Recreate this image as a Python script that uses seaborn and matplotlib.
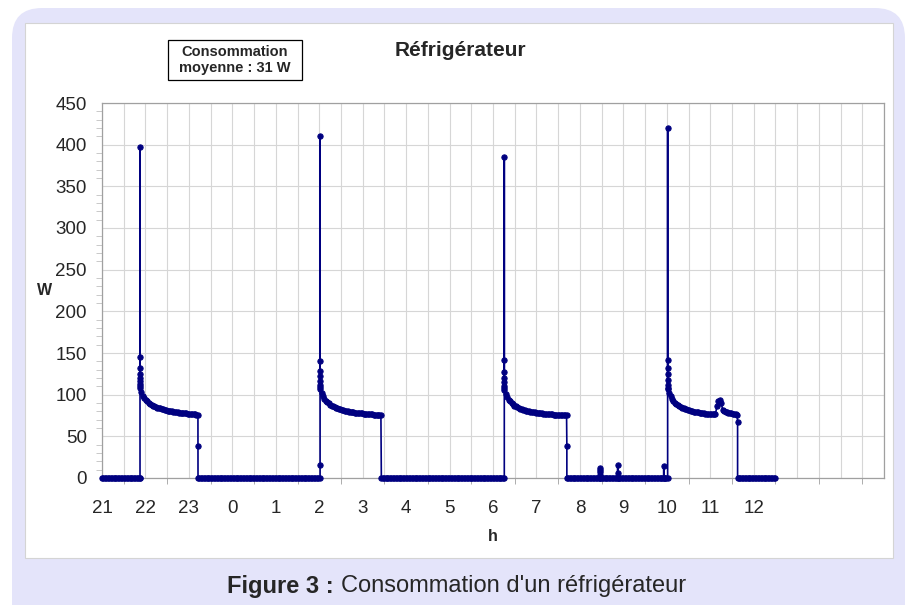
import numpy as np
import pandas as pd
import seaborn as sns
import matplotlib.pyplot as plt
from matplotlib.patches import FancyBboxPatch, Rectangle
from matplotlib.ticker import MultipleLocator, FixedLocator, FixedFormatter

# logger sampling step (minutes)
step = 2

# compressor off -> zero readings
off_1 = [0] * 27
off_2 = [0] * 83
off_3 = [0] * 84
off_4a = [0] * 22
off_4b = [0] * 11
off_4c = [0] * 31
off_4d = [0] * 2
off_5 = [0] * 26

# readings logged at the same instant (start-up peaks, stops, small blips)
peak_1 = [0, 397, 145, 132, 125, 120, 116, 113, 110]
peak_2 = [0, 16, 411, 140, 128, 122, 116, 112, 109]
peak_3 = [0, 385, 142, 127, 120, 115, 111, 108]
peak_4 = [0, 420, 142, 132, 125, 118, 112, 108]
stop_1 = [39, 0]
stop_2 = [0]
stop_3 = [39, 0]
stop_4 = [67, 0]
blip_a = [0, 12, 10, 7, 4, 0]
blip_b = [0, 16, 6, 0]
blip_c = [0, 14, 0]

# compressor running, one reading every 2 min
run_1 = [108, 103, 99, 96, 94, 92, 90.5, 89, 88, 87, 86, 85, 84.5, 84, 83.5,
         83, 82.5, 82, 81.5, 81, 80.7, 80.4, 80, 79.7, 79.4, 79.1, 78.8, 78.6,
         78.4, 78.2, 78, 77.8, 77.6, 77.4, 77.2, 77, 76.8, 76.6, 76.4, 76.2, 76]
run_2 = [107, 102, 98, 95, 93, 91, 89.5, 88, 87, 86, 85, 84, 83.5, 83, 82.5,
         82, 81.5, 81, 80.6, 80.2, 79.8, 79.5, 79.2, 78.9, 78.6, 78.4, 78.2, 78,
         77.8, 77.6, 77.4, 77.2, 77, 76.8, 76.6, 76.5, 76.4, 76.2, 76, 75.8,
         75.6, 75.4, 75.2]
run_3 = [106, 101, 97, 94, 92, 90, 88.5, 87, 86, 85, 84, 83.2, 82.5, 82, 81.5,
         81, 80.5, 80.1, 79.7, 79.4, 79.1, 78.8, 78.5, 78.2, 78, 77.8, 77.6,
         77.4, 77.2, 77, 76.8, 76.6, 76.5, 76.4, 76.2, 76, 75.9, 75.8, 75.7,
         75.6, 75.5, 75.4, 75.3, 75.2]
run_4 = [107, 102, 98, 95, 92.5, 90.5, 89, 87.5, 86.5, 85.5, 84.5, 83.7, 83,
         82.3, 81.7, 81.2, 80.7, 80.2, 79.8, 79.4, 79, 78.7, 78.4, 78.1, 77.8,
         77.6, 77.4, 77.2, 77, 76.8, 76.7, 76.6, 76.5, 76.4, 86, 92, 94, 90, 82,
         80, 79.5, 79, 78.6, 78.2, 77.8, 77.4, 77, 76.4, 75.8]

# (start hour, readings, minutes between readings); hours past 24 = next day
segments = [
    (21.0, off_1, step), (21.875, peak_1, 0), (21.875, run_1, step), (23.21, stop_1, 0),
    (23.24, off_2, step), (26.02, peak_2, 0), (26.02, run_2, step), (27.43, stop_2, 0),
    (27.46, off_3, step), (30.26, peak_3, 0), (30.26, run_3, step), (31.70, stop_3, 0),
    (31.73, off_4a, step), (32.47, blip_a, 0), (32.50, off_4b, step), (32.87, blip_b, 0),
    (32.90, off_4c, step), (33.93, blip_c, 0), (33.96, off_4d, step),
    (34.02, peak_4, 0), (34.02, run_4, step), (35.63, stop_4, 0),
    (35.66, off_5, step),
]

hours, watts = [], []
for t0, vals, dt in segments:
    hours += list(t0 + np.arange(len(vals)) * dt / 60)
    watts += vals
df = pd.DataFrame({"h": hours, "W": watts})

hour_labels = [str(h % 24) for h in range(21, 37)] + ["", "", ""]

sns.set_style("white")
plt.rcParams["font.family"] = ["Liberation Sans", "DejaVu Sans"]

fig = plt.figure(figsize=(9.14, 6.05), dpi=100)

# background frame in pixel units
bg = fig.add_axes([0, 0, 1, 1], zorder=-1)
bg.set_xlim(0, 914)
bg.set_ylim(605, 0)
bg.axis("off")
bg.add_patch(FancyBboxPatch((12, 8), 893, 640, boxstyle="round,pad=0,rounding_size=30",
                            facecolor="#e4e4fa", edgecolor="none"))
bg.add_patch(Rectangle((25, 23), 868, 535, facecolor="white", edgecolor="#d4d4d4", lw=0.8))
bg.add_patch(Rectangle((168, 40), 134, 40, facecolor="white", edgecolor="black", lw=0.9))
bg.text(235, 60, "Consommation\nmoyenne : 31 W", ha="center", va="center",
        fontsize=10.5, fontweight="bold", linespacing=1.2)
bg.text(460, 50, "Réfrigérateur", ha="center", va="center", fontsize=15, fontweight="bold")
bg.text(334, 586, "Figure 3 :", ha="right", va="center", fontsize=17, fontweight="bold")
bg.text(341, 586, "Consommation d'un réfrigérateur", ha="left", va="center", fontsize=17)

ax = fig.add_axes([102 / 914, 1 - 478 / 605, 782 / 914, 375 / 605])
sns.lineplot(data=df, x="h", y="W", sort=False, estimator=None, ax=ax,
             color="#000080", lw=1.2, marker="o", markersize=3.8,
             markeredgecolor="#000080", clip_on=False, zorder=3)

ax.set_xlim(21, 39)
ax.set_ylim(0, 450)
ax.xaxis.set_major_locator(FixedLocator(list(range(21, 40))))
ax.xaxis.set_major_formatter(FixedFormatter(hour_labels))
ax.xaxis.set_minor_locator(MultipleLocator(0.5))
ax.yaxis.set_major_locator(MultipleLocator(50))
ax.yaxis.set_minor_locator(MultipleLocator(10))
ax.grid(True, which="major", axis="y", color="#d6d6d6", lw=0.8)
ax.grid(True, which="both", axis="x", color="#d6d6d6", lw=0.8)
ax.set_axisbelow(True)
for s in ax.spines.values():
    s.set_color("#a0a0a0")
    s.set_linewidth(0.9)
ax.tick_params(axis="x", which="both", direction="out", length=4, color="#a0a0a0",
               pad=12, labelsize=13.5)
ax.tick_params(axis="y", which="major", direction="out", length=5, color="#a0a0a0",
               pad=6, labelsize=13.5)
ax.tick_params(axis="y", which="minor", direction="out", length=4, color="#c0c0c0")
ax.tick_params(axis="x", which="minor", bottom=True)
ax.tick_params(axis="y", which="minor", left=True)

ax.set_xlabel("h", fontsize=11.5, fontweight="bold")
ax.set_ylabel("W", fontsize=11.5, fontweight="bold", rotation=0, ha="center", va="center")
ax.xaxis.set_label_coords(0.5, -0.135)
ax.yaxis.set_label_coords(-0.073, 0.501)

fig.savefig("out.png", dpi=100)
